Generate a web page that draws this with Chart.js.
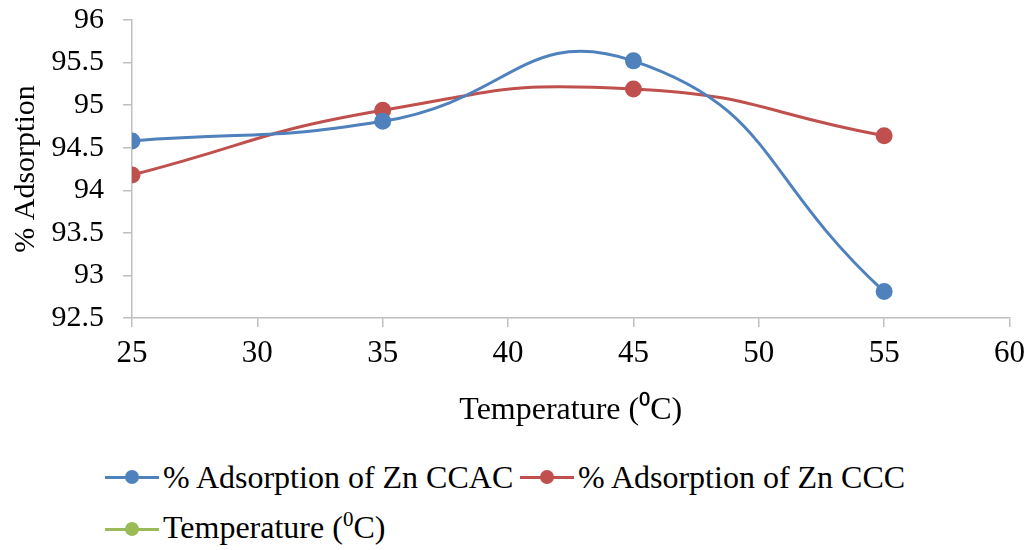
<!DOCTYPE html>
<html>
<head>
<meta charset="utf-8">
<script src="https://cdn.jsdelivr.net/npm/chart.js@4"></script>
<style>
  html, body { margin: 0; padding: 0; background: #fff; }
  #wrap { position: relative; width: 1033px; height: 550px; font-family: "Liberation Serif", "Times New Roman", serif; }
  #chart { position: absolute; left: 0; top: 0; }
  .leg { position: absolute; display: flex; align-items: center; font-size: 32px; line-height: 36px; color: #000; white-space: nowrap; }
  .mark { position: relative; width: 54px; height: 14px; margin-right: 4px; }
  .mark .ln { position: absolute; left: 0; right: 0; top: 5.5px; height: 3px; }
  .mark .pt { position: absolute; left: 20px; top: 0; width: 14px; height: 14px; border-radius: 50%; }
  .sup { font-size: 21px; position: relative; top: -12px; }
</style>
</head>
<body>
<div id="wrap">
  <canvas id="chart" width="1033" height="430"></canvas>
  <div class="leg" style="left:105px; top:459px;"><span class="mark"><span class="ln" style="background:#4f81bd"></span><span class="pt" style="background:#4f81bd"></span></span>% Adsorption of Zn CCAC</div>
  <div class="leg" style="left:520px; top:459px;"><span class="mark"><span class="ln" style="background:#c0504d"></span><span class="pt" style="background:#c0504d"></span></span>% Adsorption of Zn CCC</div>
  <div class="leg" style="left:105px; top:509px;"><span class="mark"><span class="ln" style="background:#9bbb59"></span><span class="pt" style="background:#9bbb59"></span></span><span>Temperature (<span class="sup">0</span>C)</span></div>
</div>
<script>
// values
const temperature = [25, 35, 45, 55];
const ccac = [94.58, 94.81, 95.52, 92.81];
const ccc = [94.18, 94.94, 95.19, 94.64];
const xTicks = [25, 30, 35, 40, 45, 50, 55, 60];
const yTicks = [92.5, 93, 93.5, 94, 94.5, 95, 95.5, 96];

const axisGrey = '#bfbfbf';
const serif = "'Liberation Serif', 'Times New Roman', serif";

Chart.defaults.font.family = serif;
Chart.defaults.font.size = 30;
Chart.defaults.color = '#000';

function pts(ys) {
    return temperature.map((t, i) => ({ x: t, y: ys[i] }));
}

new Chart(document.getElementById('chart'), {
    type: 'line',
    data: {
        datasets: [
            {
                label: '% Adsorption of Zn CCAC',
                data: pts(ccac),
                borderColor: '#4f81bd',
                backgroundColor: '#4f81bd',
                borderWidth: 3,
                pointRadius: 7,
                tension: 0.5
            },
            {
                label: '% Adsorption of Zn CCC',
                data: pts(ccc),
                borderColor: '#c0504d',
                backgroundColor: '#c0504d',
                borderWidth: 3,
                pointRadius: 7,
                tension: 0.5
            }
        ]
    },
    options: {
        responsive: false,
        animation: false,
        devicePixelRatio: 1,
        layout: { padding: { left: 0, top: 20, right: 22, bottom: 0 } },
        plugins: { legend: { display: false }, tooltip: { enabled: false } },
        scales: {
            x: {
                type: 'linear',
                min: xTicks[0],
                max: xTicks[xTicks.length - 1],
                afterBuildTicks: s => { s.ticks = xTicks.map(v => ({ value: v })); },
                afterFit: s => { s.height = 112; },
                grid: { drawOnChartArea: false, drawTicks: true, tickLength: 9, color: axisGrey, lineWidth: 1.5 },
                border: { display: true, color: axisGrey, width: 1.5 },
                ticks: { color: '#000', font: { family: serif, size: 31 }, padding: 8, maxRotation: 0, callback: v => String(v) },
                title: { display: true, text: 'Temperature (\u2070C)', color: '#000', font: { family: serif, size: 32 }, padding: { top: 10, bottom: 0 } }
            },
            y: {
                min: yTicks[0],
                max: yTicks[yTicks.length - 1],
                afterBuildTicks: s => { s.ticks = yTicks.map(v => ({ value: v })); },
                afterFit: s => { s.width = 132; s.paddingTop = 0; s.paddingBottom = 0; },
                grid: { drawOnChartArea: false, drawTicks: true, tickLength: 9, color: axisGrey, lineWidth: 1.5 },
                border: { display: true, color: axisGrey, width: 1.5 },
                ticks: { color: '#000', font: { family: serif, size: 30 }, padding: 19, callback: v => String(v) },
                title: { display: true, text: '% Adsorption', color: '#000', font: { family: serif, size: 30 }, padding: { top: 8, bottom: 0 } }
            }
        }
    }
});
</script>
</body>
</html>
